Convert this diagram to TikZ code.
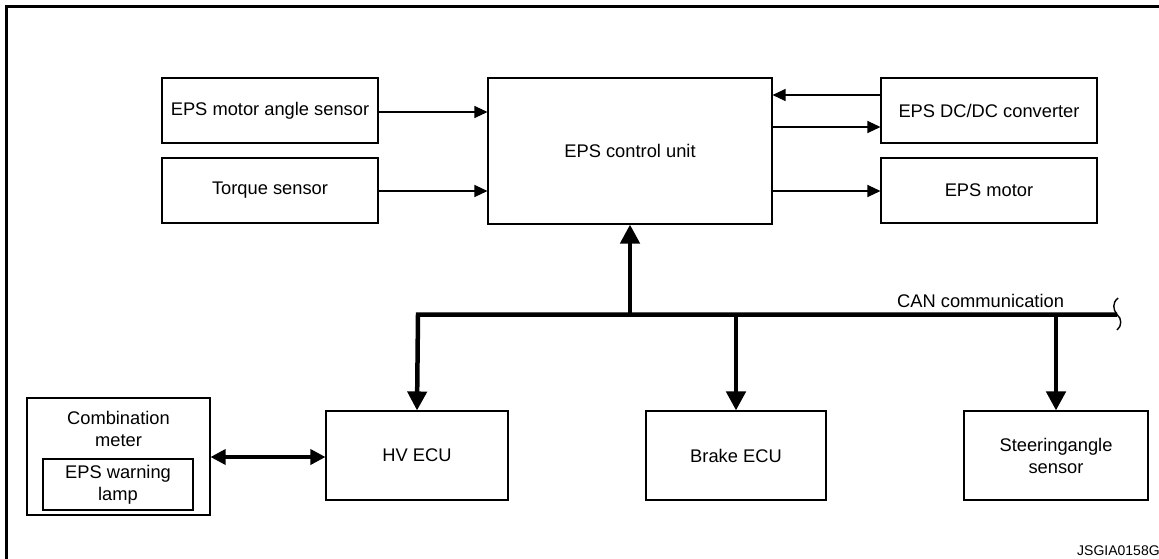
\documentclass[tikz,border=0pt]{standalone}
\usepackage{fontspec}
\setmainfont{Liberation Sans}
\usetikzlibrary{arrows.meta}
\begin{document}
\begin{tikzpicture}[x=1pt,y=-1pt,
  box/.style={draw, line width=1.1pt, rectangle, align=center, inner sep=0pt,
    font=\fontsize{18.3}{22}\selectfont},
  thinarrow/.style={line width=1.2pt, -{Triangle[length=13pt,width=12pt]}},
  busarrow/.style={line width=4.5pt, line join=miter, -{Triangle[length=19pt,width=19pt]}},
  dblarrow/.style={line width=3.5pt, {Triangle[length=15pt,width=15pt]}-{Triangle[length=15pt,width=15pt]}}]
\useasboundingbox (0,0) rectangle (1159,558);
% frame
\draw[line width=3pt] (6,575) -- (6,6) -- (1175,6);
% top row
\node[box, minimum width=216pt, minimum height=65pt] (mas) at (270,110.5) {EPS motor angle sensor};
\node[box, minimum width=216pt, minimum height=65pt] (ts) at (270,190.5) {Torque sensor};
\node[box, minimum width=284pt, minimum height=146pt] (ecu) at (630,151) {EPS control unit};
\node[box, minimum width=216pt, minimum height=65pt] (dcdc) at (989,110.5) {EPS DC/DC converter};
\node[box, minimum width=216pt, minimum height=65pt] (motor) at (989,190.5) {EPS motor};
% bottom row
\node[box, minimum width=182pt, minimum height=89pt] (hv) at (417,455.5) {HV ECU};
\node[box, minimum width=180pt, minimum height=89pt] (brake) at (736,455.5) {Brake ECU};
\node[box, minimum width=184pt, minimum height=89pt] (steer) at (1056,455.5) {Steeringangle\\sensor};
\node[box, minimum width=183pt, minimum height=117pt] (comb) at (118.5,456.5) {};
\node[font=\fontsize{18.3}{22}\selectfont, align=center, inner sep=0pt] (combt) at (118.5,429) {Combination\\meter};
\node[box, minimum width=150pt, minimum height=51pt] (lamp) at (118,484.5) {EPS warning\\lamp};
% thin arrows
\draw[thinarrow] ([yshift=-1.5pt]mas.east) -- ([yshift=-1.5pt]mas.east -| ecu.west);
\draw[thinarrow] ([yshift=-0.5pt]ts.east) -- ([yshift=-0.5pt]ts.east -| ecu.west);
\draw[thinarrow] ([yshift=15.5pt]dcdc.west) -- ([yshift=15.5pt]dcdc.west -| ecu.east);
\draw[thinarrow] ([yshift=-16.5pt]dcdc.west -| ecu.east) -- ([yshift=-16.5pt]dcdc.west);
\draw[thinarrow] ([yshift=-0.5pt]motor.west -| ecu.east) -- ([yshift=-0.5pt]motor.west);
% CAN bus
\coordinate (busL) at (418,314.5);
\coordinate (busR) at (1117,314.5);
\draw[busarrow] (busR) -- (busL) -- (hv.north);
\draw[busarrow] (ecu.south |- busL) -- (ecu.south);
\draw[busarrow] (brake.north |- busL) -- (brake.north);
\draw[busarrow] (steer.north |- busL) -- (steer.north);
\draw[line width=1.4pt] ([shift={(1pt,16.5pt)}]busR) .. controls +(-6pt,-5pt) and +(-4pt,5pt) .. (busR)
  .. controls +(5pt,-4pt) and +(5pt,4pt) .. ([shift={(0pt,-15.5pt)}]busR);
\node[font=\fontsize{18.3}{22}\selectfont, anchor=base west, inner sep=0pt] (can) at (897,307) {CAN communication};
% double arrow
\draw[dblarrow] (comb.east |- 0,457) -- (hv.west |- 0,457);
% code
\node[font=\fontsize{14}{16}\selectfont, anchor=base west, inner sep=0pt] (code) at (1077,555) {JSGIA0158GB};
\end{tikzpicture}
\end{document}
